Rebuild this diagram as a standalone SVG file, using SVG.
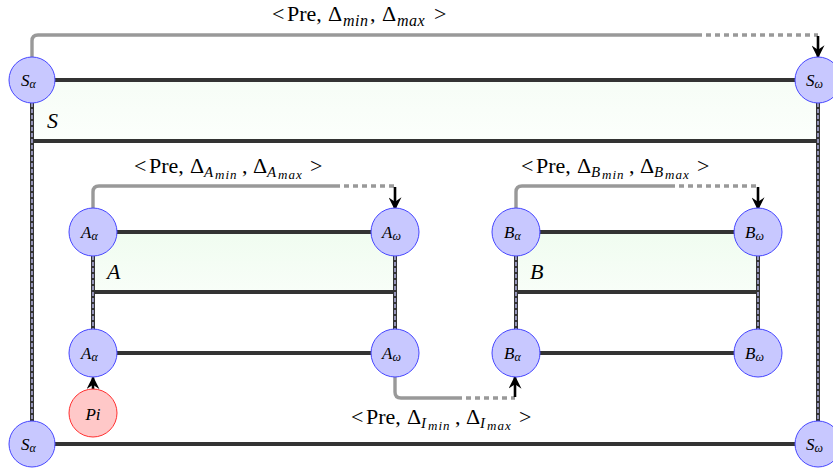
<svg xmlns="http://www.w3.org/2000/svg" width="833" height="468" viewBox="0 0 833 468">
<defs>
<linearGradient id="grnS" x1="0" y1="0" x2="0" y2="1">
<stop offset="0" stop-color="#f6fdf6"/>
<stop offset="1" stop-color="#fcfffc"/>
</linearGradient>
<linearGradient id="grnA" x1="0" y1="0" x2="0" y2="1">
<stop offset="0" stop-color="#f0fcf0"/>
<stop offset="1" stop-color="#f8fef8"/>
</linearGradient>
<marker id="arr" viewBox="0 0 10 10" refX="9" refY="5" markerWidth="5" markerHeight="5" orient="auto" markerUnits="strokeWidth">
<path d="M0,0 L10,5 L0,10 L3.5,5 Z" fill="#000"/>
</marker>
<style>
.bar{stroke:#333;stroke-width:4;fill:none}
.dl{stroke:#333;stroke-width:4;fill:none}
.dli{stroke:#c8c8ff;stroke-width:1.3;stroke-dasharray:4 2;fill:none}
.g{stroke:#999;stroke-width:3.4;fill:none}
.gd{stroke:#999;stroke-width:3.4;fill:none;stroke-dasharray:5 4}
.ar{stroke:#000;stroke-width:2.6;fill:none}
.n{fill:#c8c8ff;stroke:#4646ff;stroke-width:1}
.p{fill:#ffc8c8;stroke:#ff3030;stroke-width:1}
.nt{font-family:"Liberation Serif","Times New Roman","DejaVu Serif",serif;font-style:italic;font-size:17px;fill:#000}
.lab{font-family:"Liberation Serif","Times New Roman","DejaVu Serif",serif;font-size:22px;fill:#000}
.it{font-style:italic}
.s0{font-size:16px;font-style:italic;letter-spacing:0.5px}
.s1{font-size:15px;font-style:italic}
.s2{font-size:13px;font-style:italic;letter-spacing:1px}
</style>
</defs>
<g id="regions">
<rect x="32" y="80" width="786" height="61" fill="url(#grnS)"/>
<rect x="93" y="232" width="302" height="60" fill="url(#grnA)"/>
<rect x="516" y="232" width="242" height="60" fill="url(#grnA)"/>
</g>
<g id="connectors">
<path class="bar" d="M32,80 H818"/>
<path class="bar" d="M32,141 H818"/>
<path class="bar" d="M93,232 H395"/>
<path class="bar" d="M93,292 H395"/>
<path class="bar" d="M516,232 H758"/>
<path class="bar" d="M516,292 H758"/>
<path class="bar" d="M93,353 H395"/>
<path class="bar" d="M516,353 H758"/>
<path class="bar" d="M32,444 H818"/>
<path class="dl" d="M32,103 V421 M818,103 V421 M93,256 V330 M395,256 V330 M516,256 V330 M758,256 V330"/>
<path class="dli" d="M32,103 V421 M818,103 V421 M93,256 V330 M395,256 V330 M516,256 V330 M758,256 V330"/>
<path class="g" d="M32,57 V41 Q32,35 38,35 H697"/>
<path class="gd" d="M697,35 H818"/>
<path class="ar" d="M818,36 V57" marker-end="url(#arr)"/>
<path class="g" d="M93,209 V192 Q93,186 99,186 H335"/>
<path class="gd" d="M335,186 H395"/>
<path class="ar" d="M395,187 V209" marker-end="url(#arr)"/>
<path class="g" d="M516,209 V192 Q516,186 522,186 H670"/>
<path class="gd" d="M670,186 H758"/>
<path class="ar" d="M758,187 V209" marker-end="url(#arr)"/>
<path class="g" d="M395,376 V392 Q395,398 401,398 H457"/>
<path class="gd" d="M457,398 H515"/>
<path class="ar" d="M515,397 V377" marker-end="url(#arr)"/>
<path class="ar" d="M93,390 V377.5" marker-end="url(#arr)"/>
</g>
<g id="labels">
<text class="lab" y="21"><tspan x="272">&lt;</tspan><tspan x="287">Pre,</tspan><tspan x="328">Δ</tspan><tspan class="s0" x="343" y="26">min</tspan><tspan x="370" y="21">,</tspan><tspan x="382">Δ</tspan><tspan class="s0" x="397" y="26">max</tspan><tspan x="434" y="21">&gt;</tspan></text>
<text class="lab" y="173"><tspan x="134">&lt;</tspan><tspan x="149">Pre,</tspan><tspan x="190">Δ</tspan><tspan class="s1" x="204" y="177">A</tspan><tspan class="s2" x="215" y="179">min</tspan><tspan x="242" y="173">,</tspan><tspan x="253">Δ</tspan><tspan class="s1" x="267" y="177">A</tspan><tspan class="s2" x="278" y="179">max</tspan><tspan x="310" y="173">&gt;</tspan></text>
<text class="lab" y="173"><tspan x="521">&lt;</tspan><tspan x="536">Pre,</tspan><tspan x="577">Δ</tspan><tspan class="s1" x="591" y="177">B</tspan><tspan class="s2" x="602" y="179">min</tspan><tspan x="629" y="173">,</tspan><tspan x="640">Δ</tspan><tspan class="s1" x="654" y="177">B</tspan><tspan class="s2" x="665" y="179">max</tspan><tspan x="697" y="173">&gt;</tspan></text>
<text class="lab" y="424"><tspan x="351">&lt;</tspan><tspan x="366">Pre,</tspan><tspan x="407">Δ</tspan><tspan class="s1" x="421" y="428">I</tspan><tspan class="s2" x="428" y="430">min</tspan><tspan x="455" y="424">,</tspan><tspan x="466">Δ</tspan><tspan class="s1" x="480" y="428">I</tspan><tspan class="s2" x="487" y="430">max</tspan><tspan x="519" y="424">&gt;</tspan></text>
<text class="lab it" x="47" y="128">S</text>
<text class="lab it" x="107" y="279">A</text>
<text class="lab it" x="530" y="279">B</text>
</g>
<g id="S_alpha_top"><circle class="n" cx="32" cy="80" r="23"/><text class="nt" x="21" y="86">S<tspan font-size="12" dy="2">α</tspan></text></g>
<g id="S_omega_top"><circle class="n" cx="818" cy="80" r="23"/><text class="nt" x="806" y="86">S<tspan font-size="12" dy="2">ω</tspan></text></g>
<g id="A_alpha_top"><circle class="n" cx="93" cy="232" r="24"/><text class="nt" x="81" y="238">A<tspan font-size="12" dy="2">α</tspan></text></g>
<g id="A_omega_top"><circle class="n" cx="395" cy="232" r="24"/><text class="nt" x="382" y="238">A<tspan font-size="12" dy="2">ω</tspan></text></g>
<g id="B_alpha_top"><circle class="n" cx="516" cy="232" r="24"/><text class="nt" x="504" y="238">B<tspan font-size="12" dy="2">α</tspan></text></g>
<g id="B_omega_top"><circle class="n" cx="758" cy="232" r="24"/><text class="nt" x="745" y="238">B<tspan font-size="12" dy="2">ω</tspan></text></g>
<g id="A_alpha_bot"><circle class="n" cx="93" cy="353" r="24"/><text class="nt" x="81" y="359">A<tspan font-size="12" dy="2">α</tspan></text></g>
<g id="A_omega_bot"><circle class="n" cx="395" cy="353" r="24"/><text class="nt" x="382" y="359">A<tspan font-size="12" dy="2">ω</tspan></text></g>
<g id="B_alpha_bot"><circle class="n" cx="516" cy="353" r="24"/><text class="nt" x="504" y="359">B<tspan font-size="12" dy="2">α</tspan></text></g>
<g id="B_omega_bot"><circle class="n" cx="758" cy="353" r="24"/><text class="nt" x="745" y="359">B<tspan font-size="12" dy="2">ω</tspan></text></g>
<g id="Pi"><circle class="p" cx="93" cy="413" r="24"/><text class="nt" x="93" y="420" font-size="20" text-anchor="middle">Pi</text></g>
<g id="S_alpha_bot"><circle class="n" cx="32" cy="444" r="23"/><text class="nt" x="21" y="450">S<tspan font-size="12" dy="2">α</tspan></text></g>
<g id="S_omega_bot"><circle class="n" cx="818" cy="444" r="23"/><text class="nt" x="806" y="450">S<tspan font-size="12" dy="2">ω</tspan></text></g>
</svg>
